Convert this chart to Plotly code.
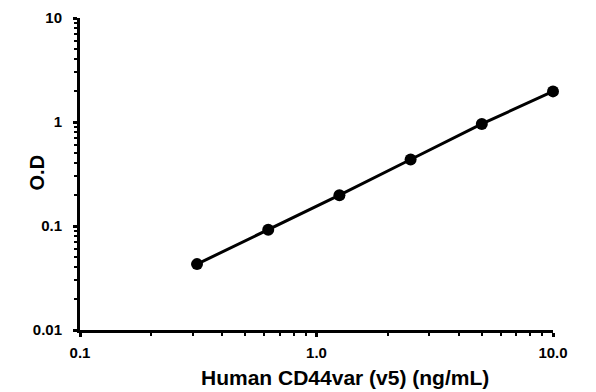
import plotly.graph_objects as go

concentration = [0.3125, 0.625, 1.25, 2.5, 5.0, 10.0]
od_values = [0.043, 0.092, 0.198, 0.436, 0.958, 1.97]

x_tick_vals = [0.1, 1.0, 10.0]
x_tick_text = ["0.1", "1.0", "10.0"]
y_tick_vals = [0.01, 0.1, 1, 10]
y_tick_text = ["0.01", "0.1", "1", "10"]

FONT = "Liberation Sans, Arial, sans-serif"

fig = go.Figure()
fig.add_trace(go.Scatter(
    x=concentration, y=od_values, mode="lines+markers",
    line=dict(color="black", width=3),
    marker=dict(color="black", size=12),
    cliponaxis=False, showlegend=False,
))

axis_common = dict(
    showline=True, linecolor="black", linewidth=3,
    ticks="outside", ticklen=4, tickwidth=3, tickcolor="black",
    showgrid=False, zeroline=False, mirror=False, automargin=False,
    ticklabeloverflow="allow",
    tickfont=dict(family=FONT, size=15, color="black", weight="bold"),
    minor=dict(ticks="outside", ticklen=3, tickwidth=2, tickcolor="black",
               showgrid=False, dtick="D1"),
)

fig.update_xaxes(type="log", range=[-1, 1], tickvals=x_tick_vals, ticktext=x_tick_text,
                 ticklabelstandoff=3, **axis_common)
fig.update_yaxes(type="log", range=[-2, 1], tickvals=y_tick_vals, ticktext=y_tick_text,
                 ticklabelstandoff=8, **axis_common)

fig.add_annotation(text="O.D", xref="paper", yref="paper", x=0, y=0.505,
                   xshift=-56, textangle=-90, showarrow=False,
                   font=dict(family=FONT, size=20, color="black", weight="bold"))
fig.add_annotation(text="Human CD44var (v5) (ng/mL)", xref="paper", yref="paper",
                   x=(345 - 80) / 473, y=0, yshift=-47, yanchor="middle", showarrow=False,
                   font=dict(family=FONT, size=21, color="black", weight="bold"))

fig.update_layout(
    width=596, height=392,
    margin=dict(l=72, r=51, t=10, b=70),
    paper_bgcolor="white", plot_bgcolor="white",
)

fig.write_html("out.html")
